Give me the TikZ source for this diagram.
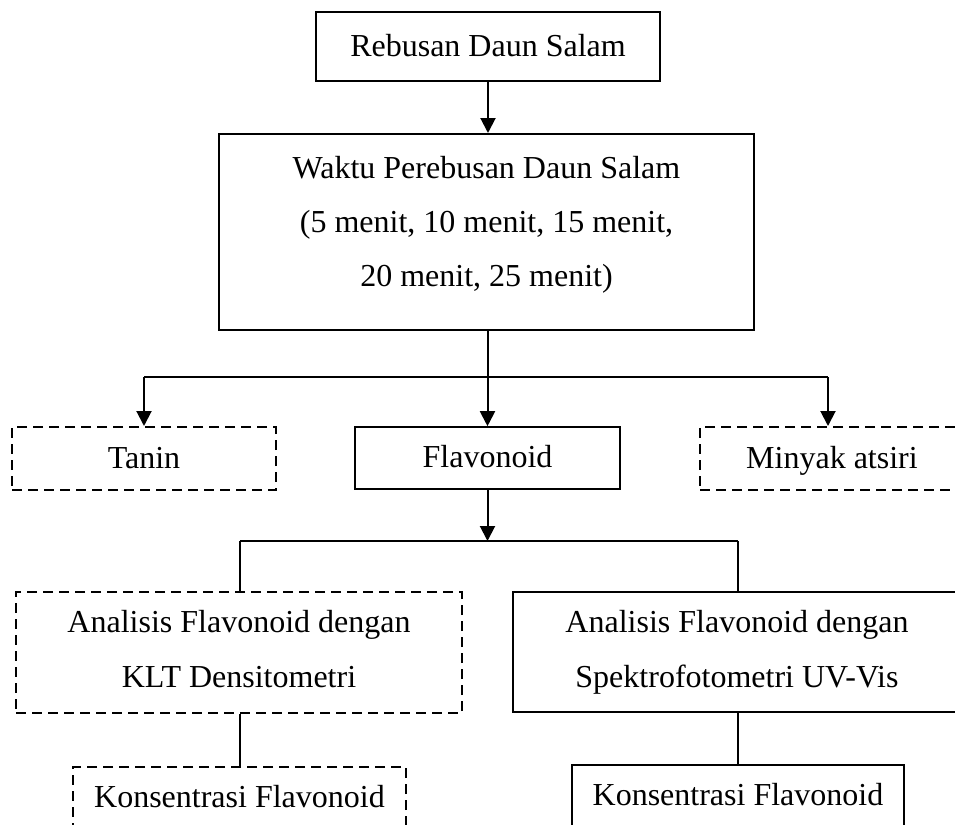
\documentclass[tikz,border=0pt]{standalone}
\usepackage{fontspec}
\setmainfont{Liberation Serif}
\usetikzlibrary{arrows.meta}

\begin{document}
\begin{tikzpicture}[x=0.5pt,y=-0.5pt,
    every node/.style={inner sep=0pt,align=center,font=\fontsize{16}{27.5}\selectfont},
    oneline/.style={text height=13pt,text depth=3.5pt},
    solidbox/.style={draw,line width=1pt},
    thinbox/.style={draw,line width=0.6pt},
    dashbox/.style={draw,line width=1pt,dash pattern=on 5pt off 3pt},
    link/.style={line width=0.6pt},
    arrowline/.style={line width=1pt,-{Triangle[width=7.5pt,length=7.5pt]}}]
    % Frame of the page
    \useasboundingbox (0,0) rectangle (955,825);
    \clip (0,0) rectangle (955,825);

    % Upper boxes
    \node[solidbox,oneline,minimum width=172pt,minimum height=34.5pt] (rebusan) at (488,46.5) {Rebusan Daun Salam};
    \node[solidbox,font=\fontsize{16}{27}\selectfont,minimum width=267.5pt,minimum height=98pt] (waktu) at (486.5,232)
        {Waktu Perebusan Daun Salam\\(5 menit, 10 menit, 15 menit,\\20 menit, 25 menit)\rule[-10.5pt]{0pt}{0pt}};

    % Compounds
    \node[dashbox,oneline,minimum width=132pt,minimum height=31.5pt] (tanin) at (144,458.5) {Tanin};
    \node[solidbox,oneline,line width=0.8pt,minimum width=132.5pt,minimum height=31pt] (flav) at (487.5,458) {Flavonoid};
    \node[dashbox,oneline,minimum width=132pt,minimum height=31.5pt] (minyak) at (832,458.5) {Minyak atsiri};

    % Analysis methods
    \node[dashbox,minimum width=223pt,minimum height=60.5pt] (klt) at (239,652.5)
        {Analisis Flavonoid dengan\\KLT Densitometri\vphantom{p}};
    \node[thinbox,minimum width=224pt,minimum height=60pt] (uv) at (737,652)
        {Analisis Flavonoid dengan\\Spektrofotometri UV-Vis};

    % Results
    \node[dashbox,oneline,minimum width=166.5pt,minimum height=31pt] (kklt) at (239.5,798) {Konsentrasi Flavonoid};
    \node[thinbox,oneline,minimum width=166pt,minimum height=31pt] (kuv) at (738,796) {Konsentrasi Flavonoid};

    % Branch points
    \coordinate (b1) at (144,377);
    \coordinate (b2) at (828,377);
    \coordinate (c0) at (488,541);
    \coordinate (c1) at (240,541);
    \coordinate (c2) at (738,541);

    % Connectors
    \draw[arrowline] (rebusan.south) -- (rebusan.south |- waktu.north);
    \draw[arrowline] (waktu.south -| flav.north) -- (flav.north);
    \draw[link] (b1) -- (b2);
    \draw[arrowline] (b1) -- (tanin.north);
    \draw[arrowline] (b2) -- (b2 |- minyak.north);
    \draw[arrowline] (flav.south) -- (flav.south |- c0);
    \draw[link] (c1) -- (c2);
    \draw[link] (c1) -- (c1 |- klt.north);
    \draw[link] (c2) -- (c2 |- uv.north);
    \draw[link] (c1 |- klt.south) -- (c1 |- kklt.north);
    \draw[link] (c2 |- uv.south) -- (c2 |- kuv.north);
\end{tikzpicture}
\end{document}
